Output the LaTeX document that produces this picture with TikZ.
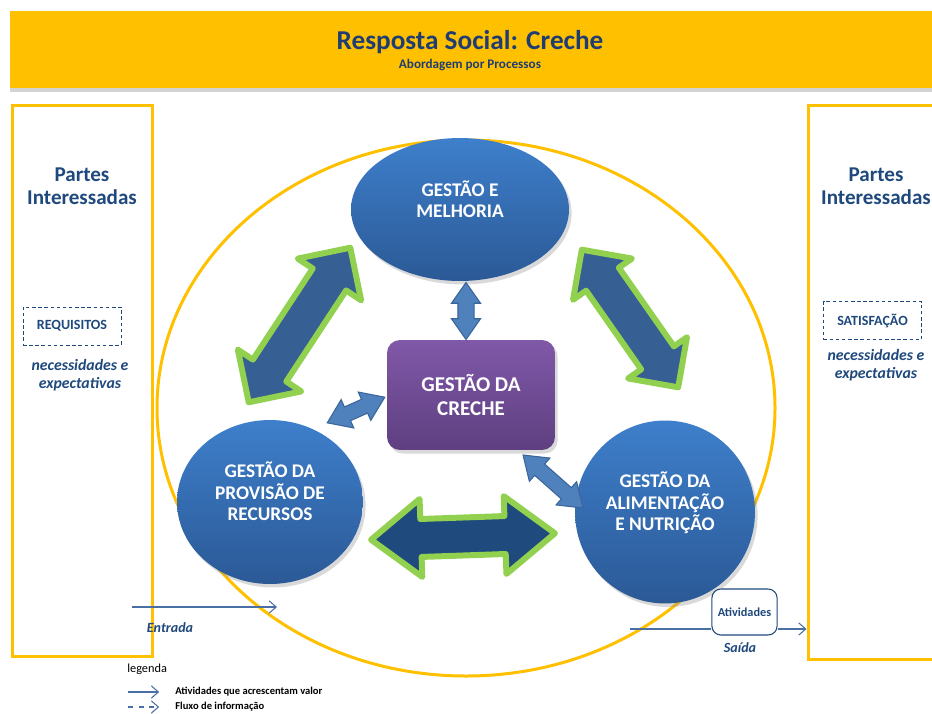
\documentclass[tikz,border=0pt]{standalone}
\usepackage{fontspec}
\setmainfont{Carlito}
\usepackage{xcolor}
\usepackage{tikz}
\usetikzlibrary{calc}
\usetikzlibrary{shapes,arrows,arrows.meta,positioning,shadows}
\usetikzlibrary{shapes.geometric}

\definecolor{amarelo}{HTML}{FFC000}
\definecolor{azultitulo}{HTML}{1F3D72}
\definecolor{azultexto}{HTML}{1F497D}
\definecolor{azulclaro}{HTML}{3E7FCB}
\definecolor{azulescuro}{HTML}{2B5996}
\definecolor{verde}{HTML}{92D050}
\definecolor{azulseta}{HTML}{365F93}
\definecolor{azulbaixo}{HTML}{1F4A7D}
\definecolor{setapeq}{HTML}{4F81BD}
\definecolor{setapeqborda}{HTML}{3A6598}
\definecolor{roxoclaro}{HTML}{8058A8}
\definecolor{roxoescuro}{HTML}{5E3F80}
\definecolor{linha}{HTML}{4A6FA5}

\tikzset{
	processo/.style={ellipse,top color=azulclaro,bottom color=azulescuro,text=white,
		font=\bfseries\fontsize{11}{12.2}\selectfont,align=center,inner sep=0pt,text depth=12pt,
		drop shadow={opacity=0.3,shadow xshift=1.5pt,shadow yshift=-2pt}},
	creche/.style={rectangle,rounded corners=0.26cm,top color=roxoclaro,bottom color=roxoescuro,
		text=white,font=\bfseries\fontsize{12}{13.6}\selectfont,align=center,
		minimum width=3.36cm,minimum height=2.2cm,
		drop shadow={opacity=0.3,shadow xshift=1.5pt,shadow yshift=-2pt}},
	setagrande/.style={double arrow,draw=verde,line width=3.4pt,line join=round,
		inner xsep=0pt,inner ysep=0.34cm,double arrow head extend=0.36cm,double arrow tip angle=90},
	setapequena/.style={double arrow,draw=setapeqborda,fill=setapeq,line width=0.6pt,
		inner xsep=0pt,inner ysep=0.14cm,double arrow head extend=0.16cm,double arrow tip angle=70},
	parte/.style={rectangle,draw=amarelo,line width=0.06cm,fill=white},
	partes/.style={text=azultexto,font=\bfseries\fontsize{12}{13}\selectfont,align=center},
	necess/.style={text=azultexto,font=\bfseries\itshape\fontsize{9}{10.2}\selectfont,align=center},
	tracejada/.style={draw=azultexto,dashed,dash pattern=on 2pt off 1.5pt,line width=0.5pt,
		text=azultexto,font=\bfseries\fontsize{8}{9}\selectfont,minimum width=1.96cm,minimum height=0.76cm},
	fluxo/.style={draw=linha,line width=0.6pt},
	seta/.style={-{Straight Barb[length=4pt,width=7pt]}},
	pequeno/.style={text=azultexto,font=\bfseries\itshape\fontsize{8}{9}\selectfont},
	legtxt/.style={anchor=west,inner sep=0pt,font=\bfseries\fontsize{6}{7}\selectfont}
}

\begin{document}
\begin{tikzpicture}[x=0.02cm,y=-0.02cm]
	\useasboundingbox (0,0) rectangle (932,713);
	\node[fill=amarelo,minimum width=18.6cm,minimum height=1.54cm,inner sep=0pt,
		drop shadow={opacity=0.35,shadow xshift=0pt,shadow yshift=-2.5pt}] (cabecalho) at (475,49.5) {};
	\node[text=azultitulo,font=\bfseries\fontsize{15.5}{17}\selectfont] (titulo) at (470,42) {Resposta Social: Creche};
	\node[text=azultitulo,font=\bfseries\fontsize{7.5}{9}\selectfont] (subtitulo) at (470,65) {Abordagem por Processos};

	\draw[amarelo,line width=0.06cm] (466,408) ellipse [x radius=309,y radius=268];

	\node[parte,minimum width=2.82cm,minimum height=11.04cm] (esq) at (82.5,381) {};
	\node[parte,minimum width=3.04cm,minimum height=11.1cm] (dir) at (884,382.5) {};
	\node[partes] (esqtit) at (82,186) {Partes\\Interessadas};
	\node[tracejada] (requisitos) at (72,326) {REQUISITOS};
	\node[necess] (esqnec) at (80,375) {necessidades e\\expectativas};
	\node[partes] (dirtit) at (876,186) {Partes\\Interessadas};
	\node[tracejada] (satisfacao) at (872.5,320.5) {SATISFAÇÃO};
	\node[necess] (dirnec) at (876,365) {necessidades e\\expectativas};

	\node[setagrande,fill=azulseta,minimum height=3.7cm,rotate=56.7] (setaesq) at (299.5,325) {};
	\node[setagrande,fill=azulseta,minimum height=3.36cm,rotate=-55,double arrow head extend=0.32cm] (setadir) at (630,318.5) {};
	\node[setagrande,fill=azulbaixo,minimum height=3.68cm,rotate=2,inner ysep=0.32cm,
		double arrow head extend=0.4cm,double arrow tip angle=76] (setabaixo) at (463,536.5) {};

	\node[processo,minimum width=4.36cm,minimum height=2.86cm] (melhoria) at (460,209.5) {GESTÃO E\\MELHORIA};
	\node[processo,minimum width=3.72cm,minimum height=3.28cm] (provisao) at (270,502) {GESTÃO DA\\PROVISÃO DE\\RECURSOS};
	\node[processo,minimum width=3.6cm,minimum height=3.66cm] (alimentacao) at (665,512) {GESTÃO DA\\ALIMENTAÇÃO\\E NUTRIÇÃO};
	\node[creche] (gestao) at (471,395) {GESTÃO DA\\CRECHE};

	\node[setapequena,minimum height=1.14cm,rotate=90,inner ysep=0.15cm,double arrow head extend=0.13cm] (setacentro) at (466,311) {};
	\node[setapequena,minimum height=1.26cm,rotate=24] (setaprov) at (356,410) {};
	\node[setapequena,minimum height=1.6cm,rotate=-41.5] (setaalim) at (553,481.5) {};

	\coordinate (entini) at (132,607);
	\coordinate (entfim) at (277,607);
	\draw[fluxo,seta] (entini) -- (entfim);
	\node[pequeno] (entrada) at (170,628) {Entrada};

	\coordinate (saiini) at (630,629);
	\node[draw=azultexto,fill=white,line width=0.6pt,rounded corners=0.18cm,minimum width=1.3cm,minimum height=0.92cm,
		text=azultexto,font=\bfseries\fontsize{7}{8}\selectfont] (atividades) at (744.5,612) {Atividades};
	\draw[fluxo] (saiini) -- (saiini -| atividades.west);
	\draw[fluxo,seta] (saiini -| atividades.east) -- (saiini -| dir.west);
	\node[pequeno] (saida) at (740,648) {Saída};

	\node[anchor=west,inner sep=0pt,font=\fontsize{7}{8}\selectfont] (legenda) at (127,669) {legenda};
	\coordinate (leg1) at (128,692);
	\coordinate (leg2) at (128,707);
	\node[legtxt] (valor) at (175,692) {Atividades que acrescentam valor};
	\node[legtxt] (informacao) at (175,707) {Fluxo de informação};
	\draw[fluxo,seta,shorten >=9] (leg1) -- (valor.west);
	\draw[fluxo,seta,dashed,shorten >=9] (leg2) -- (informacao.west);
\end{tikzpicture}
\end{document}
